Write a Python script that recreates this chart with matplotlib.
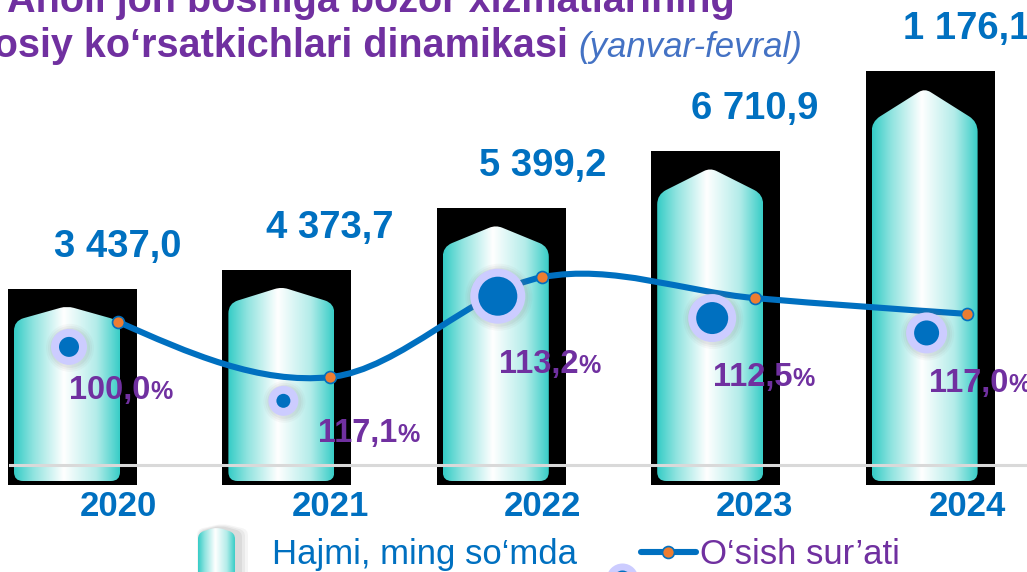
import numpy as np
import matplotlib
matplotlib.use("Agg")
import matplotlib.pyplot as plt
from matplotlib.path import Path
from matplotlib.patches import PathPatch, Rectangle
from matplotlib.colors import LinearSegmentedColormap

plt.rcParams['font.family'] = ['Liberation Sans', 'DejaVu Sans']

# ---- data ----
years = ["2020", "2021", "2022", "2023", "2024"]
volume_labels = ["3 437,0", "4 373,7", "5 399,2", "6 710,9", "1 176,1"]
growth = [100.0, 117.1, 113.2, 112.5, 117.0]

# the infographic is not drawn to scale, so the drawn levels are read
# separately (0 = grey baseline, 100 = top edge of the picture)
bar_height = [34.2, 38.3, 51.6, 63.9, 81.0]
line_level = [30.8, 18.9, 40.4, 35.9, 32.5]
dot_level = [25.4, 13.8, 36.3, 31.6, 28.4]
dot_size = [10, 7, 19.5, 16, 12.5]

# ---- colours ----
BLUE = "#0070C0"
PURPLE = "#7030A0"
ORANGE = "#ED7D31"
HALO = "#CCCCFF"
bar_cmap = LinearSegmentedColormap.from_list(
    "glass",
    [(0.0, "#34CCC6"), (0.18, "#8FE3DF"), (0.47, "#FFFFFF"),
     (0.78, "#B3ECE9"), (1.0, "#38CDC7")])

# ---- pixel helpers (figure is 1027 x 572 px) ----
W, H = 1027, 572
X0, STEP = 118, 212.25      # px of first category, px per category
BASE, UNIT = 465, 4.65      # px of baseline, px per level unit


def px_x(p):
    return (p - X0) / STEP


def px_y(p):
    return (BASE - p) / UNIT


def dx(p):
    return p / STEP


def dy(p):
    return p / UNIT


def bar_path(xc, bottom, top, hw, cap, rb=9, rs=10, rp=7):
    """Rounded bar with a pointed cap, built in px and mapped to data."""
    h = (top - bottom) * UNIT
    ys = h - cap
    n = np.hypot(hw, cap)
    ux, uy = hw / n, cap / n
    pts = [
        ((-hw, rb), Path.MOVETO),
        ((-hw, ys - rs), Path.LINETO),
        ((-hw, ys), Path.CURVE3),
        ((-hw + rs * ux, ys + rs * uy), Path.CURVE3),
        ((-rp * ux, h - rp * uy), Path.LINETO),
        ((0, h), Path.CURVE3),
        ((rp * ux, h - rp * uy), Path.CURVE3),
        ((hw - rs * ux, ys + rs * uy), Path.LINETO),
        ((hw, ys), Path.CURVE3),
        ((hw, ys - rs), Path.CURVE3),
        ((hw, rb), Path.LINETO),
        ((hw, 0), Path.CURVE3),
        ((hw - rb, 0), Path.CURVE3),
        ((-hw + rb, 0), Path.LINETO),
        ((-hw, 0), Path.CURVE3),
        ((-hw, rb), Path.CURVE3),
        ((-hw, rb), Path.CLOSEPOLY),
    ]
    verts = [(xc + dx(vx), bottom + dy(vy)) for (vx, vy), _ in pts]
    codes = [c for _, c in pts]
    return Path(verts, codes)


def glass_bar(ax, xc, bottom, top, hw, cap, z, rs=10):
    patch = PathPatch(bar_path(xc, bottom, top, hw, cap, rs=rs),
                      facecolor="none", edgecolor="none", zorder=z)
    ax.add_patch(patch)
    grad = np.linspace(0, 1, 256).reshape(1, -1)
    im = ax.imshow(grad, cmap=bar_cmap, aspect="auto", zorder=z,
                   extent=(xc - dx(hw), xc + dx(hw), bottom, top),
                   interpolation="bicubic")
    im.set_clip_path(patch)


fig = plt.figure(figsize=(W / 100, H / 100), dpi=100)
ax = fig.add_axes([0, 0, 1, 1])
ax.axis("off")

x = np.arange(len(years))
# the bars sit on a slightly wider pitch than the line points
bar_x = px_x(67) + x * dx(214.4)
bottom = px_y(481)

# bars with their black backing
for xc, top in zip(bar_x, bar_height):
    ax.add_patch(Rectangle((xc - dx(59), bottom - dy(4)), dx(129),
                           top - bottom + dy(21), facecolor="black",
                           edgecolor="none", zorder=2))
    cap = 0.085 * (top - bottom) * UNIT
    glass_bar(ax, xc, bottom, top, 53, cap, 3)

# grey baseline
ax.plot([px_x(10), px_x(W)], [0, 0], color="#D9D9D9", lw=2.2, zorder=4)

# smooth growth line (Catmull-Rom as cubic Bezier)
P = np.column_stack([x, line_level]).astype(float)
m = np.zeros_like(P)
m[1:-1] = (P[2:] - P[:-2]) / 2
m[0] = (3 * (P[1] - P[0]) - m[1]) / 2
m[-1] = (3 * (P[-1] - P[-2]) - m[-2]) / 2
verts = [tuple(P[0])]
codes = [Path.MOVETO]
for i in range(len(P) - 1):
    verts += [tuple(P[i] + m[i] / 3), tuple(P[i + 1] - m[i + 1] / 3),
              tuple(P[i + 1])]
    codes += [Path.CURVE4] * 3
ax.add_patch(PathPatch(Path(verts, codes), fill=False, edgecolor=BLUE,
                       lw=4.4, capstyle="round", zorder=5))
ax.plot(x, line_level, "o", ms=8.6, mfc=ORANGE, mec=BLUE, mew=1.2,
        ls="none", zorder=6)

# blue dots with halo
dot_x = bar_x + dx(2)
r_in = np.array(dot_size)
r_out = r_in + 8
for k, a in [(6, 0.05), (4, 0.07), (2, 0.09)]:
    ax.scatter(dot_x + dx(1), np.array(dot_level) - dy(1),
               s=(2 * (r_out + k) * 0.72) ** 2, color="#808080",
               alpha=a, lw=0, zorder=7)
ax.scatter(dot_x, dot_level, s=(2 * r_out * 0.72) ** 2, color=HALO,
           lw=0, zorder=7)
ax.scatter(dot_x, dot_level, s=(2 * r_in * 0.72) ** 2, color=BLUE,
           lw=0, zorder=8)

# value labels above the bars
for i, (top, lab) in enumerate(zip(bar_height, volume_labels)):
    ax.text(i, top + dy(59), lab, ha="center", va="center",
            fontsize=27.5, fontweight="bold", color=BLUE, zorder=9)

# growth labels
pct_dx = [32, 67, 36, 38, 41]
pct_dy = [77, 65, 96, 88, 78]
for i, g in enumerate(growth):
    xa = i + dx(pct_dx[i])
    ya = line_level[i] - dy(pct_dy[i])
    ax.text(xa, ya, f"{g:.1f}".replace(".", ","), ha="right",
            va="baseline", fontsize=23.5, fontweight="bold",
            color=PURPLE, zorder=9)
    ax.text(xa, ya, "%", ha="left", va="baseline", fontsize=18,
            fontweight="bold", color=PURPLE, zorder=9)

# year labels
for i, yr in enumerate(years):
    ax.text(i, px_y(507), yr, ha="center", va="center", fontsize=25,
            fontweight="bold", color=BLUE, zorder=9)

# title (cropped in the original picture)
ax.text(px_x(735), px_y(12), "Aholi jon boshiga bozor xizmatlarining",
        ha="right", va="baseline", fontsize=28.5, fontweight="bold",
        color=PURPLE)
ax.text(px_x(568), px_y(57), "Asosiy ko\u2018rsatkichlari dinamikasi",
        ha="right", va="baseline", fontsize=28.5, fontweight="bold",
        color=PURPLE)
ax.text(px_x(578), px_y(57), "(yanvar-fevral)", ha="left", va="baseline",
        fontsize=25, fontstyle="italic", color="#4472C4")

# legend
for k, a in [(7, 0.06), (5, 0.08), (3, 0.1)]:
    ax.add_patch(PathPatch(bar_path(px_x(219 + k / 2), px_y(600),
                                    px_y(527 - k / 2), 18.5 + k, 6, rs=6),
                           facecolor="#606060", edgecolor="none",
                           alpha=a, zorder=3))
glass_bar(ax, px_x(216.5), px_y(600), px_y(527), 18.5, 6, 4, rs=6)
ax.text(px_x(272), px_y(564), "Hajmi, ming so\u2018mda", ha="left",
        va="baseline", fontsize=25, color=BLUE)

ax.plot([px_x(641), px_x(696)], [px_y(552)] * 2, color=BLUE, lw=4.4,
        solid_capstyle="round", zorder=5)
ax.plot([px_x(668)], [px_y(552)], "o", ms=8.6, mfc=ORANGE, mec=BLUE,
        mew=1.2, zorder=6)
ax.text(px_x(700), px_y(564), "O\u2018sish sur\u2019ati", ha="left",
        va="baseline", fontsize=25, color=PURPLE)

ax.scatter([px_x(622)], [px_y(579)], s=(2 * 16 * 0.72) ** 2, color=HALO,
           lw=0, zorder=7)
ax.scatter([px_x(622)], [px_y(579)], s=(2 * 9 * 0.72) ** 2, color=BLUE,
           lw=0, zorder=8)

ax.set_xlim(px_x(0), px_x(W))
ax.set_ylim(px_y(H), px_y(0))

fig.savefig("out.png", dpi=100)
